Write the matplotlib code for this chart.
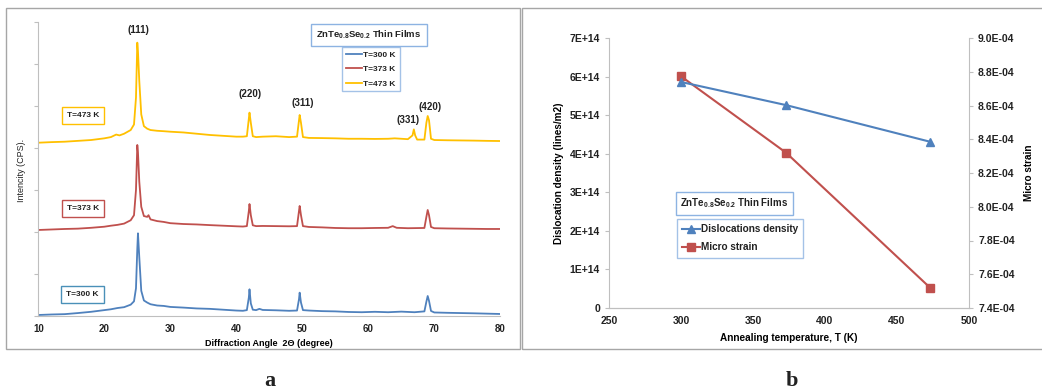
import matplotlib
matplotlib.use("Agg")
import matplotlib.pyplot as plt
from matplotlib.patches import Rectangle

# ---------------- data: XRD patterns (panel a) ----------------
two_theta_300 = [10, 12, 14, 16, 18, 20, 21, 22, 23, 24, 24.5, 24.8, 25.0, 25.1, 25.3, 25.6, 26.0, 26.5, 27, 28, 29, 30,
                 32, 34, 36, 38, 40, 41, 41.6, 41.9, 42.0, 42.2, 42.5, 43, 43.5, 44, 46, 48, 49.2, 49.5, 49.6, 49.8,
                 50.1, 51, 53, 55, 57, 59, 61, 63, 65, 67, 68.5, 68.8, 69.0, 69.2, 69.5, 70, 72, 74, 76, 78, 80]
intensity_300 = [12, 18, 22, 35, 50, 70, 80, 95, 105, 135, 175, 330, 800, 984, 700, 300, 185, 160, 140, 125, 120, 108,
                 100, 90, 85, 75, 65, 62, 70, 220, 318, 150, 75, 70, 85, 72, 68, 62, 65, 200, 278, 160,
                 70, 65, 58, 55, 48, 45, 50, 45, 52, 45, 55, 170, 238, 180, 60, 42, 38, 35, 32, 28, 24]

two_theta_373 = [10, 12, 14, 16, 18, 20, 21, 22, 23, 24, 24.5, 24.8, 25.0, 25.1, 25.3, 25.6, 26.0, 26.5, 26.7, 27, 28,
                 29, 30, 32, 34, 36, 38, 40, 41, 41.6, 41.9, 42.0, 42.2, 42.5, 43, 44, 46, 48, 49.2, 49.5, 49.6,
                 49.8, 50.1, 51, 53, 55, 57, 59, 61, 63, 63.7, 64.3, 66, 68.5, 68.8, 69.0, 69.2, 69.5, 70, 72, 74,
                 76, 78, 80]
intensity_373 = [1024, 1030, 1036, 1040, 1050, 1063, 1075, 1085, 1100, 1140, 1200, 1500, 2036, 1950, 1600, 1300, 1190,
                 1180, 1200, 1150, 1130, 1120, 1105, 1095, 1090, 1082, 1075, 1068, 1065, 1070, 1250, 1333, 1200,
                 1080, 1070, 1072, 1070, 1068, 1070, 1250, 1310, 1200, 1070, 1060, 1055, 1048, 1045, 1045, 1048,
                 1050, 1070, 1050, 1045, 1048, 1180, 1262, 1200, 1060, 1045, 1042, 1040, 1038, 1036, 1036]

two_theta_473 = [10, 12, 14, 16, 18, 20, 21, 21.8, 22.3, 23, 24, 24.5, 24.8, 25.0, 25.1, 25.3, 25.6, 26.0, 26.5, 27,
                 28, 29, 30, 32, 34, 36, 38, 40, 41, 41.6, 41.9, 42.0, 42.2, 42.5, 43, 44, 46, 48, 49.2, 49.5,
                 49.6, 49.8, 50.1, 51, 53, 55, 57, 59, 61, 63, 64, 66, 66.7, 66.9, 67.1, 67.4, 68.5, 68.8, 69.0,
                 69.2, 69.5, 70, 72, 74, 76, 78, 80]
intensity_473 = [2063, 2070, 2075, 2085, 2095, 2115, 2130, 2160, 2150, 2170, 2214, 2280, 2600, 3254, 3150, 2800, 2400,
                 2260, 2230, 2214, 2205, 2200, 2194, 2185, 2170, 2155, 2145, 2135, 2135, 2140, 2350, 2421, 2300,
                 2140, 2130, 2135, 2140, 2130, 2135, 2330, 2393, 2300, 2130, 2120, 2118, 2115, 2110, 2110, 2108,
                 2110, 2115, 2105, 2150, 2222, 2150, 2100, 2100, 2300, 2381, 2330, 2110, 2095, 2092, 2090, 2088,
                 2085, 2083]

series_labels = ["T=300 K", "T=373 K", "T=473 K"]
peak_labels = ["(111)", "(220)", "(311)", "(331)", "(420)"]
peak_label_x = [25.2, 42.1, 50.1, 66.1, 69.3]
peak_label_y = [3405, 2643, 2536, 2333, 2488]

# ---------------- data: panel b ----------------
temperature = [300, 373, 473]
dislocation_density = [5.86e14, 5.26e14, 4.31e14]
micro_strain = [8.773e-4, 8.32e-4, 7.52e-4]
left_ticks = [0, 1e14, 2e14, 3e14, 4e14, 5e14, 6e14, 7e14]
left_tick_labels = ["0", "1E+14", "2E+14", "3E+14", "4E+14", "5E+14", "6E+14", "7E+14"]
right_ticks = [7.4e-4, 7.6e-4, 7.8e-4, 8.0e-4, 8.2e-4, 8.4e-4, 8.6e-4, 8.8e-4, 9.0e-4]
right_tick_labels = ["7.4E-04", "7.6E-04", "7.8E-04", "8.0E-04", "8.2E-04", "8.4E-04", "8.6E-04", "8.8E-04", "9.0E-04"]

BLUE = "#4F81BD"
RED = "#C0504D"
YELLOW = "#FFC000"
GREY = "#BFBFBF"
FRAME = "#A6A6A6"
BOXBLUE = "#8DB3E2"
FONT = ["Liberation Sans", "DejaVu Sans"]
TXT = "#222222"

plt.rcParams["font.family"] = FONT
plt.rcParams["font.weight"] = "bold"
plt.rcParams["mathtext.default"] = "regular"
plt.rcParams["text.color"] = TXT
plt.rcParams["xtick.color"] = TXT
plt.rcParams["ytick.color"] = TXT

W, H = 1042, 389
fig = plt.figure(figsize=(W / 100, H / 100), dpi=100)


def fx(px):
    return px / W


def fy(py):
    return 1 - py / H


# panel frames
fig.patches.append(Rectangle((fx(6), fy(349)), fx(514), 341 / H, transform=fig.transFigure,
                             fill=False, edgecolor=FRAME, linewidth=1.0))
fig.patches.append(Rectangle((fx(522), fy(349)), fx(530), 341 / H, transform=fig.transFigure,
                             fill=False, edgecolor=FRAME, linewidth=1.0))

# ---------------- panel a ----------------
ax = fig.add_axes([fx(38.3), fy(316), fx(462), 294 / H])
ax.plot(two_theta_300, intensity_300, color=BLUE, lw=1.3, label=series_labels[0])
ax.plot(two_theta_373, intensity_373, color=RED, lw=1.3, label=series_labels[1])
ax.plot(two_theta_473, intensity_473, color=YELLOW, lw=1.3, label=series_labels[2])
ax.set_xlim(10, 80)
ax.set_ylim(0, 3500)
ax.set_xticks(range(10, 81, 10))
ax.set_yticks(range(0, 3501, 500))
ax.set_yticklabels([])
for s in ["top", "right"]:
    ax.spines[s].set_visible(False)
for s in ["left", "bottom"]:
    ax.spines[s].set_color(GREY)
ax.tick_params(axis="y", length=3, color=GREY, direction="out")
ax.tick_params(axis="x", length=0, labelsize=7, pad=6)
for t in ax.get_xticklabels():
    t.set_fontweight("bold")
ax.set_xlabel("Diffraction Angle  2Θ (degree)", fontsize=6.5, fontweight="bold", labelpad=3)
fig.text(fx(21), fy(170), "Intencity (CPS).", rotation=90, ha="center", va="center", fontsize=6.5,
         fontweight="normal")

for lab, px_, py_ in zip(peak_labels, peak_label_x, peak_label_y):
    ax.text(px_, py_, lab, ha="center", va="center", fontsize=7, fontweight="bold")

# temperature boxes
box_specs = [(series_labels[2], 83, 115.5, YELLOW), (series_labels[1], 83, 208.5, RED),
             (series_labels[0], 82.5, 294.5, "#4A90B8")]
for lab, cx, cy, ec in box_specs:
    fig.text(fx(cx), fy(cy), lab, ha="center", va="center", fontsize=6, fontweight="bold",
             bbox=dict(boxstyle="square,pad=0.6", fc="white", ec=ec, lw=1.0))

fig.text(fx(369), fy(35), "ZnTe$_{0.8}$Se$_{0.2}$ Thin Films", ha="center", va="center", fontsize=6.8,
         fontweight="bold", bbox=dict(boxstyle="square,pad=0.55", fc="white", ec=BOXBLUE, lw=1.0))
leg = ax.legend(loc="upper left", bbox_to_anchor=(fx(342), fy(47)), bbox_transform=fig.transFigure,
                fontsize=6, frameon=True, fancybox=False, edgecolor=BOXBLUE, handlelength=2.0,
                handletextpad=0.1, borderpad=0.45, labelspacing=0.8, borderaxespad=0)
leg.get_frame().set_linewidth(1.0)
for t in leg.get_texts():
    t.set_fontweight("bold")

# ---------------- panel b ----------------
bx = fig.add_axes([fx(609), fy(308), fx(360), 270 / H])
l1, = bx.plot(temperature, dislocation_density, color=BLUE, marker="^", ms=6, lw=1.5,
              label="Dislocations density")
bx.set_xlim(250, 500)
bx.set_ylim(0, 7e14)
bx.set_xticks(range(250, 501, 50))
bx.set_yticks(left_ticks)
bx.set_yticklabels(left_tick_labels)
bx2 = bx.twinx()
l2, = bx2.plot(temperature, micro_strain, color=RED, marker="s", ms=6, lw=1.5, label="Micro strain")
bx2.set_ylim(7.4e-4, 9.0e-4)
bx2.set_yticks(right_ticks)
bx2.set_yticklabels(right_tick_labels)
bx.set_zorder(bx2.get_zorder() + 1)
bx.patch.set_visible(False)

for a in (bx, bx2):
    for s in a.spines.values():
        s.set_color(GREY)
    a.spines["top"].set_visible(False)
bx.spines["right"].set_visible(False)
bx2.spines["left"].set_visible(False)
bx.tick_params(axis="both", length=3, color=GREY, labelsize=7.5)
bx.tick_params(axis="x", length=0, pad=6)
bx2.tick_params(axis="y", length=3, color=GREY, labelsize=7.5)
for t in bx.get_xticklabels() + bx.get_yticklabels() + bx2.get_yticklabels():
    t.set_fontweight("bold")
bx.set_xlabel("Annealing temperature, T (K)", fontsize=7.2, fontweight="bold", labelpad=5)
bx.set_ylabel("Dislocation density (lines/m2)", fontsize=7.2, fontweight="bold", labelpad=4)
bx2.set_ylabel("Micro strain", fontsize=7.2, fontweight="bold", labelpad=7)

fig.text(fx(734.5), fy(203.5), "ZnTe$_{0.8}$Se$_{0.2}$ Thin Films", ha="center", va="center", fontsize=7,
         fontweight="bold", bbox=dict(boxstyle="square,pad=0.5", fc="white", ec=BOXBLUE, lw=1.0))
leg2 = bx.legend(handles=[l1, l2], loc="upper left", bbox_to_anchor=(fx(677), fy(219)),
                 bbox_transform=fig.transFigure, fontsize=7.2, frameon=True, fancybox=False,
                 edgecolor=BOXBLUE, handlelength=1.8, handletextpad=0.1, borderpad=0.5,
                 labelspacing=0.85, borderaxespad=0, markerscale=0.9)
leg2.get_frame().set_linewidth(1.0)
for t in leg2.get_texts():
    t.set_fontweight("bold")

# panel letters
fig.text(fx(270), fy(386), "a", ha="center", va="baseline", fontsize=16, fontweight="bold",
         family=["Liberation Serif", "DejaVu Serif"])
fig.text(fx(792), fy(386), "b", ha="center", va="baseline", fontsize=16, fontweight="bold",
         family=["Liberation Serif", "DejaVu Serif"])

fig.savefig("out.png", dpi=100)
